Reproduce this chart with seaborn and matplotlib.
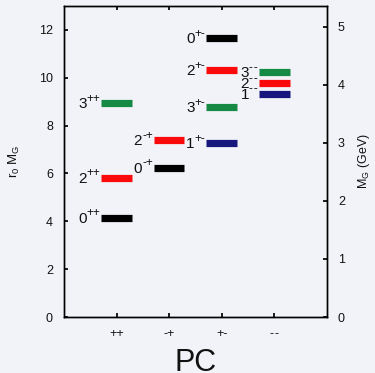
import matplotlib
matplotlib.use("Agg")
import matplotlib.pyplot as plt
import seaborn as sb
import pandas as pd

# glueball spectrum, r0*M_G per J^PC state
pc_names = ['++', '-+', '+-', '--']
state_pc = ['++', '++', '++', '-+', '-+', '+-', '+-', '+-', '+-', '--', '--', '--']
state_j = ['0', '2', '3', '0', '2', '0', '2', '3', '1', '3', '2', '1']
r0_mass = [4.15, 5.82, 8.93, 6.24, 7.40, 11.65, 10.31, 8.78, 7.26, 10.24, 9.77, 9.34]
r0_per_gev = 2.427

df = pd.DataFrame({'pc': state_pc, 'j': state_j, 'm': r0_mass})
colors = {'0': 'black', '1': '#16167c', '2': '#fa0a0a', '3': '#148a44'}


def spaced(pc):
    # keep two hyphens from running together
    return pc.replace('--', '-\u200a-')


sb.set_theme(style='ticks')
plt.rcParams['font.family'] = ['Liberation Sans', 'DejaVu Sans']
plt.rcParams['mathtext.fontset'] = 'custom'
plt.rcParams['mathtext.rm'] = 'Liberation Sans'
plt.rcParams['mathtext.it'] = 'Liberation Sans'
plt.rcParams['text.color'] = '#111111'
plt.rcParams['axes.labelcolor'] = '#111111'
plt.rcParams['xtick.labelcolor'] = '#111111'
plt.rcParams['ytick.labelcolor'] = '#111111'

fig = plt.figure(figsize=(3.75, 3.73), dpi=100, facecolor='#f2f3f9')
ax = fig.add_axes([0.1707, 0.150, 0.701, 0.834])
ax.set_facecolor('#f2f3f9')

ax.set_xlim(0, 5)
ax.set_ylim(0, 13)
ax.set_xticks(range(1, 5))
ax.set_xticklabels([spaced(p) for p in pc_names], fontsize=9)
ax.set_yticks(range(0, 13, 2))
ax.tick_params(axis='y', labelsize=9, direction='in', length=3, pad=8, color='black')
ax.tick_params(axis='x', direction='in', length=3, pad=8, top=True, color='black')
for sp in ax.spines.values():
    sp.set_color('black')
    sp.set_linewidth(1.0)
ax.set_xlabel('PC', fontsize=22, labelpad=6)
ax.set_ylabel('r$_0$ M$_G$', fontsize=9.5, labelpad=12)

half = 0.29
sups = []
for _, row in df.iterrows():
    xc = pc_names.index(row['pc']) + 1
    ax.hlines(row['m'], xc - half, xc + half, color=colors[row['j']], lw=5.2)
    s = ax.annotate(spaced(row['pc']), xy=(xc - half, row['m']), xytext=(-0.8, 3.2),
                    textcoords='offset points', ha='right', va='center', fontsize=8.5)
    sups.append((s, xc - half, row))

# put the J digit just left of its PC superscript
fig.canvas.draw()
rend = fig.canvas.get_renderer()
for s, xl, row in sups:
    w = s.get_window_extent(rend).width * 72 / fig.dpi
    ax.annotate(row['j'], xy=(xl, row['m']), xytext=(-0.8 - w, -0.8),
                textcoords='offset points', ha='right', va='center', fontsize=11)

ax2 = ax.twinx()
ax2.set_ylim(0, 13 / r0_per_gev)
ax2.set_yticks(range(0, 6))
ax2.tick_params(axis='y', labelsize=9, direction='in', length=3, pad=8, color='black')
ax2.set_ylabel('M$_G$ (GeV)', fontsize=9, labelpad=8)
for sp in ax2.spines.values():
    sp.set_color('black')
    sp.set_linewidth(1.0)

fig.savefig('out.png', dpi=100, facecolor=fig.get_facecolor())
